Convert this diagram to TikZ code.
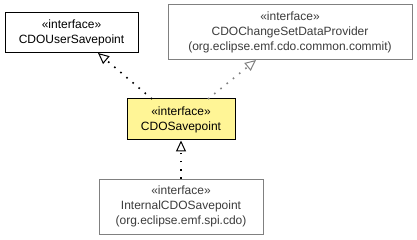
\documentclass[tikz,border=0pt]{standalone}
\usepackage{fontspec}
\setmainfont{Liberation Sans}
\usetikzlibrary{arrows.meta}
\definecolor{noteyellow}{RGB}{255,245,150}
\definecolor{ghost}{RGB}{128,128,128}
\definecolor{ghosttext}{RGB}{60,60,60}
\tikzset{
  iface/.style={draw=black, line width=1pt, fill=white, inner sep=0pt, align=center,
    font=\fontsize{12}{15}\selectfont, text=black},
  extiface/.style={iface, draw=ghost, text=ghosttext},
  selfiface/.style={iface, fill=noteyellow},
  realizes/.style={line width=1.6pt, dash pattern=on 1.6pt off 6.4pt,
    -{Triangle[open, length=11pt, width=10pt, line width=1pt]}},
  extrealizes/.style={realizes, draw=ghost}
}
\begin{document}
\begin{tikzpicture}[x=1pt, y=-1pt]
\useasboundingbox (0,0) rectangle (417,240);
\node[iface, minimum width=133pt, minimum height=40pt] (user) at (71.5,33)
  {«interface»\\CDOUserSavepoint};
\node[extiface, minimum width=244pt, minimum height=55pt] (csdp) at (290,32.5)
  {«interface»\\CDOChangeSetDataProvider\\(org.eclipse.emf.cdo.common.commit)};
\node[selfiface, minimum width=108pt, minimum height=41pt] (sp) at (181,119.5)
  {«interface»\\CDOSavepoint};
\node[extiface, minimum width=164pt, minimum height=55pt] (isp) at (181,206.5)
  {«interface»\\InternalCDOSavepoint\\(org.eclipse.emf.spi.cdo)};
\coordinate (spL) at (152,99);
\coordinate (spR) at (208,99);
\coordinate (userB) at (98,53);
\coordinate (csdpB) at (256,60);
\draw[realizes] (spL) -- (userB);
\draw[extrealizes] (spR) -- (csdpB);
\draw[realizes] (isp.north) -- (sp.south);
\end{tikzpicture}
\end{document}
